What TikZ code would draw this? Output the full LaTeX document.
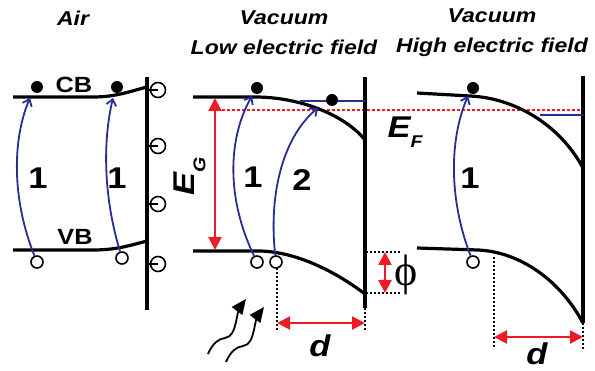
\documentclass[tikz,border=0pt]{standalone}
\usepackage{fontspec}
\setmainfont{Liberation Sans}[FakeStretch=1.15]
\newfontfamily\phifont{Liberation Serif}
\usetikzlibrary{arrows.meta}
\definecolor{myblue}{RGB}{40,44,150}
\definecolor{myred}{RGB}{237,28,36}
\begin{document}
\begin{tikzpicture}[x=1pt,y=-1pt,
  band/.style={line width=3.2pt},
  wall/.style={line width=3.2pt},
  trans/.style={draw=myblue, line width=1.8pt, -{Straight Barb[length=6pt,width=10pt]}},
  redarr/.style={draw=myred, line width=2.2pt, {Triangle[length=13pt,width=13pt]}-{Triangle[length=13pt,width=13pt]}},
  blkdots/.style={line width=2pt, dash pattern=on 2pt off 2pt},
  reddots/.style={draw=myred, line width=2.5pt, dash pattern=on 2.5pt off 2.5pt},
  electron/.style={circle, fill=black, inner sep=0pt, minimum size=12pt},
  hole/.style={circle, draw, fill=white, line width=1.6pt, inner sep=0pt, minimum size=12pt},
  sstate/.style={circle, draw, line width=1.6pt, inner sep=0pt, minimum size=15pt},
  title/.style={font=\fontsize{20}{30}\selectfont\bfseries\itshape, align=center},
  bandlabel/.style={font=\fontsize{22}{22}\selectfont\bfseries},
  num/.style={font=\fontsize{30}{30}\selectfont\bfseries},
  sym/.style={font=\fontsize{30}{30}\selectfont\bfseries\itshape},
  photon/.style={line width=1.8pt, -{Triangle[length=15pt,width=13pt]}}
]
\useasboundingbox (0,0) rectangle (595,371);

% titles
\node[title] (tAir) at (73,18) {Air};
\node[title] (tLow) at (284,33) {Vacuum\\Low electric field};
\node[title] (tHigh) at (492,33) {Vacuum\\High electric field};

% Fermi level
\draw[reddots] (222,110) -- (583,110);

% ---------- Panel 1: Air ----------
\draw[band] (13,97) -- (93,97) .. controls (115,97) and (128,92) .. (147,87);
\draw[band] (13,250) -- (93,250) .. controls (115,250) and (128,246) .. (147,241);
\draw[wall] (147,77) -- (147,310);
\foreach \i/\y in {1/90,2/146,3/204,4/264}{
  \node[sstate] (s\i) at (158,\y) {};
  \coordinate (w\i) at (147,\y);
  \draw[line width=1.6pt] (w\i) -- (s\i.center);
}
\node[electron] (e1) at (37,87) {};
\node[electron] (e2) at (117,87) {};
\node[hole] (h1) at (37,262) {};
\node[hole] (h2) at (122,258) {};
\node[bandlabel] (CB) at (74,85) {CB};
\node[bandlabel] (VB) at (75,237) {VB};
\coordinate (c1) at (30,98);
\coordinate (c2) at (113,98);
\draw[trans] (h1) .. controls (12,200) and (12,140) .. (c1);
\draw[trans] (h2) .. controls (103,195) and (103,140) .. (c2);
\node[num] (n1) at (38,178) {1};
\node[num] (n2) at (117,178) {1};

% ---------- Panel 2: low field ----------
\draw[band] (193,97) -- (255,97) .. controls (300,97) and (345,115) .. (365,140);
\draw[band] (193,251) -- (260,251) .. controls (300,252) and (340,275) .. (365,294);
\draw[wall] (365,77) -- (365,308);
\draw[myblue, line width=1.6pt] (300,101) -- (365,101);
\node[electron] (e3) at (257,88) {};
\node[electron] (e4) at (332,100) {};
\node[hole] (h3) at (257,262) {};
\node[hole] (h4) at (276,262) {};
\coordinate (c3) at (252,96);
\coordinate (c4) at (318,108);
\draw[trans] (h3) .. controls (227,200) and (227,140) .. (c3);
\draw[trans] (h4) .. controls (268,190) and (285,135) .. (c4);
\node[num] (n3) at (253,177) {1};
\node[num] (n4) at (302,180) {2};
% E_G
\coordinate (gT) at (215,98);
\coordinate (gB) at (215,250);
\draw[redarr] (gT) -- (gB);
\node[sym, rotate=90] (EG) at (190,176) {E\raisebox{-0.35em}{\fontsize{17}{17}\selectfont G}};
% E_F
\node[sym] (EF) at (405,132) {E\raisebox{-0.35em}{\fontsize{17}{17}\selectfont F}};
% d
\coordinate (d1a) at (277,268);
\coordinate (d1b) at (277,331);
\coordinate (d1c) at (365,308);
\coordinate (d1d) at (365,331);
\draw[blkdots] (d1a) -- (d1b);
\draw[blkdots] (d1c) -- (d1d);
\coordinate (d1l) at (277,323);
\coordinate (d1r) at (365,323);
\draw[redarr] (d1l) -- (d1r);
\node[sym] (d1) at (320,346) {d};
% phi
\coordinate (p1a) at (366,252);
\coordinate (p1b) at (401,252);
\coordinate (p2a) at (366,293);
\coordinate (p2b) at (401,293);
\draw[blkdots] (p1a) -- (p1b);
\draw[blkdots] (p2a) -- (p2b);
\coordinate (pT) at (385,252);
\coordinate (pB) at (385,293);
\draw[redarr] (pT) -- (pB);
\node[font=\phifont\fontsize{44}{44}\selectfont] (phi) at (406,275) {ϕ};
% photons
\draw[photon] (208,354) .. controls (213,343) and (218,339) .. (225,338) .. controls (232,337) and (234,330) .. (236,322) .. controls (237,315) and (240,307) .. (246,299);
\draw[photon, shift={(18,8)}] (208,354) .. controls (213,343) and (218,339) .. (225,338) .. controls (232,337) and (234,330) .. (236,322) .. controls (237,315) and (240,307) .. (246,299);

% ---------- Panel 3: high field ----------
\draw[band] (417,93) -- (470,96) .. controls (515,98) and (560,125) .. (583,168);
\draw[band] (417,248) -- (478,250) .. controls (520,252) and (560,280) .. (583,323);
\draw[wall] (583,76) -- (583,323);
\draw[myblue, line width=1.6pt] (540,115) -- (583,115);
\node[electron] (e5) at (473,88) {};
\node[hole] (h5) at (473,262) {};
\coordinate (c5) at (468,96);
\draw[trans] (h5) .. controls (449,200) and (449,140) .. (c5);
\node[num] (n5) at (470,178) {1};
\coordinate (d2a) at (494,257);
\coordinate (d2b) at (494,349);
\coordinate (d2c) at (583,323);
\coordinate (d2d) at (583,349);
\draw[blkdots] (d2a) -- (d2b);
\draw[blkdots] (d2c) -- (d2d);
\coordinate (d2l) at (494,337);
\coordinate (d2r) at (583,337);
\draw[redarr] (d2l) -- (d2r);
\node[sym] (d2) at (537,354) {d};
\end{tikzpicture}
\end{document}
